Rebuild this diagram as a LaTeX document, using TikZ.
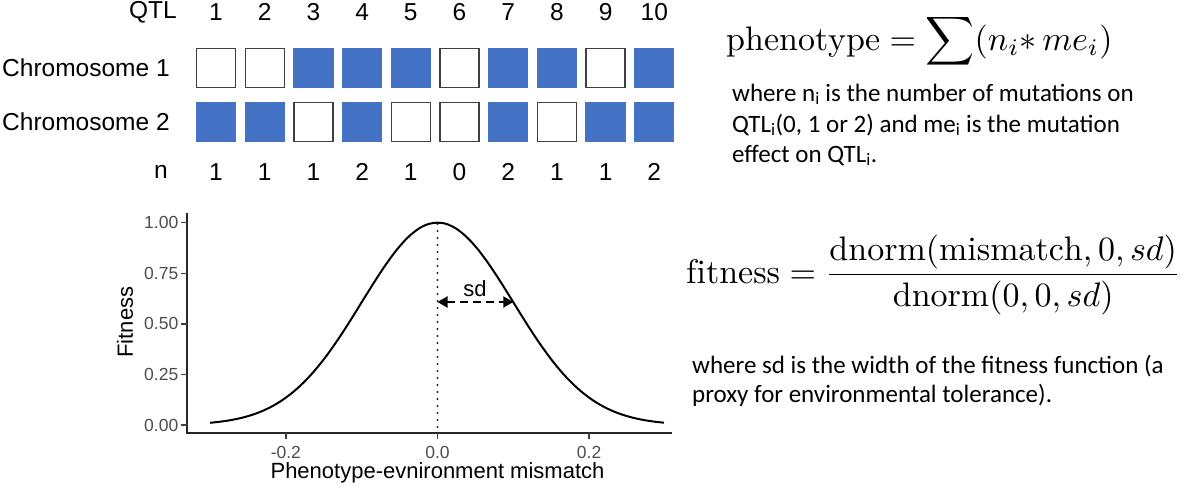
\documentclass[tikz,border=0pt]{standalone}
\usepackage{fontspec}
\usepackage{graphicx}
\usepackage{amsmath}
\usetikzlibrary{arrows.meta}
\newfontfamily\arialf{Liberation Sans}
\newfontfamily\calibf{Carlito}
\definecolor{qblue}{HTML}{4472C4}
\definecolor{tickgray}{HTML}{4D4D4D}
\begin{document}
\begin{tikzpicture}[x=1pt,y=-1pt,
  lab/.style={font=\arialf\fontsize{24.5}{29}\selectfont, inner sep=0},
  wbox/.style={minimum width=39pt, minimum height=39pt, inner sep=0, draw=black!75, line width=1.3pt, fill=white},
  bbox/.style={minimum width=40.3pt, minimum height=40.3pt, inner sep=0, fill=qblue},
  desc/.style={font=\calibf\fontsize{25}{30}\selectfont, inner sep=0, anchor=base west},
  formula/.style={inner sep=0, anchor=base west},
  axisline/.style={line width=1.9pt, black!85},
  tickmark/.style={line width=1.3pt, black!75},
  ticklab/.style={font=\arialf\fontsize{17.5}{20}\selectfont, text=tickgray, inner sep=0},
  axtitle/.style={font=\arialf\fontsize{22}{26}\selectfont, inner sep=0},
  curve/.style={line width=2pt, black},
  dotline/.style={line width=2.4pt, black!85, line cap=round, dash pattern=on 0pt off 7pt},
  sdarrow/.style={line width=1.9pt, black, dash pattern=on 8pt off 5pt,
    {Triangle[length=10pt,width=11pt]}-{Triangle[length=10pt,width=11pt]}}
]
\useasboundingbox (0,0) rectangle (1181,491);

% ---------- chromosome grid ----------
\node[lab] (qtl) at (153,12) {QTL};
\node[lab, anchor=west] (chr1) at (2,68) {Chromosome 1};
\node[lab, anchor=west] (chr2) at (2,122) {Chromosome 2};
\node[lab] (nlab) at (161,172) {n};
\foreach \i/\sa/\sb/\n in {1/wbox/bbox/1, 2/wbox/bbox/1, 3/bbox/wbox/1, 4/bbox/bbox/2, 5/bbox/wbox/1,
                           6/wbox/wbox/0, 7/bbox/bbox/2, 8/bbox/wbox/1, 9/wbox/bbox/1, 10/bbox/bbox/2} {
  \pgfmathsetmacro\cx{216+48.7*(\i-1)}
  \node[lab] (q\i) at (\cx,12) {\i};
  \node[\sa] (ca\i) at (\cx,68) {};
  \node[\sb] (cb\i) at (\cx,122) {};
  \node[lab] (n\i) at (\cx,172) {\n};
}

% ---------- phenotype formula ----------
\node[formula] (pheno) at (726,50)
  {\scalebox{3.4}{$\displaystyle \mathrm{phenotype} = \sum (n_i{*}\, me_i)$}};
\node[desc] (d1) at (732,101) {where n\textsubscript{i} is the number of mutations on};
\node[desc] (d2) at (732,132) {QTL\textsubscript{i}(0, 1 or 2) and me\textsubscript{i} is the mutation};
\node[desc] (d3) at (732,162) {effect on QTL\textsubscript{i}.};

% ---------- fitness plot ----------
\coordinate (ytop) at (187,213);
\coordinate (orig) at (187,433);
\coordinate (xend) at (672,433);
\draw[axisline] (ytop) -- (orig) -- (xend);
\foreach \k/\v/\t in {1/0/0.00, 2/0.25/0.25, 3/0.5/0.50, 4/0.75/0.75, 5/1/1.00} {
  \pgfmathsetmacro\yy{425-202.3*\v}
  \coordinate (yt\k) at (181,\yy);
  \coordinate (ya\k) at (187,\yy);
  \draw[tickmark] (yt\k) -- (ya\k);
  \node[ticklab, anchor=east] (yl\k) at (178.5,\yy) {\t};
}
\foreach \k/\v/\t in {1/-0.2/-0.2, 2/0/0.0, 3/0.2/0.2} {
  \pgfmathsetmacro\xx{437.5+758*\v}
  \coordinate (xa\k) at (\xx,433);
  \coordinate (xt\k) at (\xx,439);
  \draw[tickmark] (xa\k) -- (xt\k);
  \node[ticklab] (xl\k) at (\xx,452) {\t};
}
\node[axtitle, rotate=90] (ytitle) at (125,322) {Fitness};
\node[axtitle] (xtitle) at (437.5,473) {Phenotype-evnironment mismatch};

\coordinate (peak) at (437.5,224);
\coordinate (zero) at (437.5,431);
\draw[dotline] (peak) -- (zero);
\draw[curve] plot[domain=-0.3:0.3, samples=121, smooth] ({437.5+758*\x},{425-202.3*exp(-(\x*\x)/0.02)});

\coordinate (sdl) at (437.5,302);
\coordinate (sdr) at (513.3,302);
\draw[sdarrow] (sdl) -- (sdr);
\node[axtitle] (sdlab) at (475,289) {sd};

% ---------- fitness formula ----------
\node[formula] (fit) at (686,283)
  {\scalebox{3.4}{$\displaystyle \mathrm{fitness} = \frac{\mathrm{dnorm}(\mathrm{mismatch}, 0, sd)}{\mathrm{dnorm}(0, 0, sd)}$}};
\node[desc] (e1) at (692,373) {where sd is the width of the fitness function (a};
\node[desc] (e2) at (692,402) {proxy for environmental tolerance).};
\end{tikzpicture}
\end{document}
